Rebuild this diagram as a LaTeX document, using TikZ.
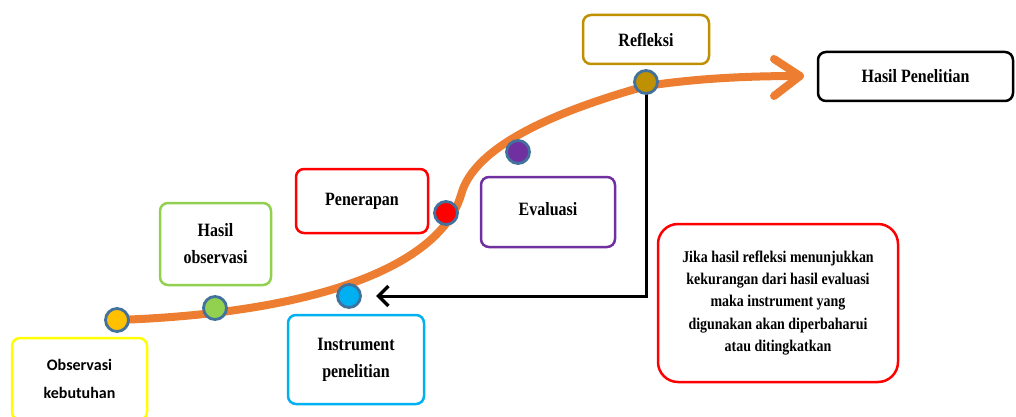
\documentclass[tikz,border=0pt]{standalone}
\usepackage{fontspec}
\setmainfont{Liberation Serif}[FakeStretch=0.85]
\newfontfamily\calib{Carlito}
\usetikzlibrary{positioning,calc,arrows.meta}

\definecolor{kuning}{HTML}{FFFF00}
\definecolor{hijau}{HTML}{92D050}
\definecolor{biru}{HTML}{00B0F0}
\definecolor{merah}{HTML}{FF0000}
\definecolor{ungu}{HTML}{7030A0}
\definecolor{emas}{HTML}{BF9000}
\definecolor{oranye}{HTML}{ED7D31}
\definecolor{titik}{HTML}{41719C}
\definecolor{jingga}{HTML}{FFC000}

\tikzset{
  kotak/.style={draw=#1,line width=2.5pt,rounded corners=8pt,fill=white,
    align=center,font=\bfseries\fontsize{18.8}{27}\selectfont,inner sep=2pt},
  bulat/.style={circle,draw=titik,line width=2.8pt,fill=#1,minimum size=23pt,inner sep=0pt},
}

\begin{document}
\begin{tikzpicture}[x=1pt,y=-1pt]
      \useasboundingbox (0,0) rectangle (1016,417);
      \clip (0,0) rectangle (1016,417);

      % % Boxes
      \node[kotak=kuning,minimum width=135pt,minimum height=82pt,font=\calib\bfseries\fontsize{16}{28}\selectfont] (obs) at (79.5,379) {Observasi\\kebutuhan};
      \node[kotak=hijau,minimum width=111pt,minimum height=82pt] (hobs) at (215.5,244) {Hasil\\observasi};
      \node[kotak=biru,minimum width=136pt,minimum height=89pt] (instr) at (356,359.5) {Instrument\\penelitian};
      \node[kotak=merah,minimum width=132pt,minimum height=64pt] (pen) at (362,201) {\raisebox{3pt}{Penerapan}};
      \node[kotak=ungu,minimum width=134pt,minimum height=70pt] (eval) at (548,212) {\raisebox{7pt}{Evaluasi}};
      \node[kotak=emas,minimum width=126pt,minimum height=49pt] (refl) at (646,39.5) {Refleksi};
      \node[kotak=black,minimum width=195pt,minimum height=49pt] (hpen) at (915.5,76.5) {Hasil Penelitian};
      \node[kotak=merah,rounded corners=20pt,minimum width=240pt,minimum height=158pt,
        font=\bfseries\fontsize{16.4}{22.2}\selectfont] (note) at (778,303)
        {Jika hasil refleksi menunjukkan\\kekurangan dari hasil evaluasi\\maka instrument yang\\digunakan akan diperbaharui\\atau ditingkatkan};

      % % Curve
      \coordinate (c0) at (117,320);
      \coordinate (c1) at (461,195);
      \coordinate (c2) at (646,86);
      \coordinate (tip) at (800,76);
      \draw[oranye,line width=8pt,line cap=round,line join=round]
        (c0) .. controls (320,313) and (440,265) .. (c1)
             .. controls (474,145) and (560,110) .. (c2)
             .. controls (700,78) and (750,76) .. (tip);
      \draw[oranye,line width=8pt,line cap=round,line join=round]
        ($(tip)+(-26,-17)$) -- (tip) -- ($(tip)+(-26,20)$);

      % % Feedback arrow
      \coordinate (back) at (376,296);
      \draw[line width=3pt,-{Straight Barb[length=10pt,width=20pt,line width=3.5pt]}]
        (646,82) -- (646,296) -- (back);

      % % Dots
      \node[bulat=jingga] (d1) at (117,320) {};
      \node[bulat=hijau] (d2) at (215,308) {};
      \node[bulat=biru] (d3) at (349,296) {};
      \node[bulat=merah] (d4) at (446,213) {};
      \node[bulat=ungu] (d5) at (518,152) {};
      \node[bulat=emas] (d6) at (646,82) {};
\end{tikzpicture}
\end{document}
